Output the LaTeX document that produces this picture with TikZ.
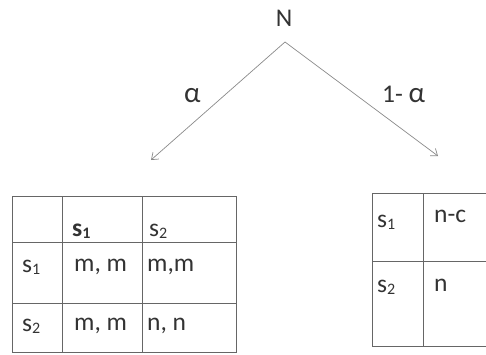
\documentclass[tikz,border=0pt]{standalone}
\usepackage{fontspec}
\setmainfont{Carlito}
\usetikzlibrary{arrows.meta}
\definecolor{txt}{HTML}{333333}
\definecolor{ln}{HTML}{8A8A8A}
\definecolor{tl}{HTML}{666666}
\newcommand\lsub[1]{\raisebox{-0.1em}{\fontsize{16}{16}\selectfont #1}}
\tikzset{
  lbl/.style={text=txt, font=\fontsize{25.5}{27}\selectfont, inner sep=0pt, anchor=base west},
  branch/.style={draw=ln, line width=0.7pt, -{Straight Barb[length=6pt,width=9pt]}},
  grid/.style={draw=tl, line width=0.9pt}
}
\begin{document}
\begin{tikzpicture}[x=1pt,y=-1pt]
\useasboundingbox (0,0) rectangle (486,354);
% root
\node[lbl, anchor=base] (N) at (284,26) {N};
\coordinate (apex) at (285,42);
\coordinate (ltip) at (151,160);
\coordinate (rtip) at (438,156);
\draw[branch] (apex) -- (ltip);
\draw[branch] (apex) -- (rtip);
\node[lbl, font=\fontsize{29}{30}\selectfont] (a) at (184,102) {α};
\node[lbl] (b) at (382,102) {1- {\fontsize{29}{30}\selectfont α}};
% left table
\draw[grid] (12,196) rectangle (236,352);
\draw[grid] (62,196) -- (62,352);
\draw[grid] (142,196) -- (142,352);
\draw[grid] (12,242) -- (236,242);
\draw[grid] (12,303) -- (236,303);
\node[lbl] (h1) at (72,236) {\textbf{s}\lsub{\textbf{1}}};
\node[lbl] (h2) at (149,236) {s\lsub{2}};
\node[lbl] (r1) at (22,272) {s\lsub{1}};
\node[lbl] (r2) at (22,331) {s\lsub{2}};
\node[lbl] (c11) at (74,271) {m, m};
\node[lbl] (c12) at (147,271) {m,m};
\node[lbl] (c21) at (74,330) {m, m};
\node[lbl] (c22) at (147,330) {n, n};
% right table
\draw[grid] (486,193) -- (372,193) -- (372,346) -- (486,346);
\draw[grid] (423,193) -- (423,346);
\draw[grid] (372,261) -- (486,261);
\node[lbl] (q1) at (377,227) {s\lsub{1}};
\node[lbl] (q2) at (377,292) {s\lsub{2}};
\node[lbl] (v1) at (434,222) {n-c};
\node[lbl] (v2) at (434,291) {n};
\end{tikzpicture}
\end{document}
